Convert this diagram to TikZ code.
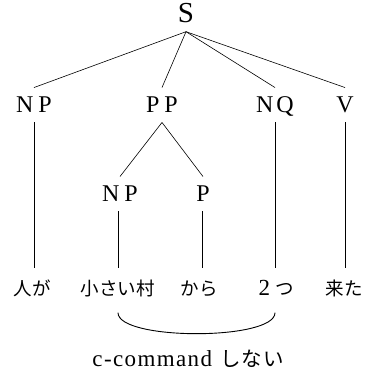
\documentclass[tikz,border=0pt]{standalone}
\usepackage{fontspec}
\setmainfont{Liberation Serif}
\newfontfamily\jp{Noto Sans CJK JP}
\newfontfamily\spaced[LetterSpace=6]{Liberation Serif}
\begin{document}
\begin{tikzpicture}[x=1pt,y=-1pt]
\tikzset{
  cat/.style={font=\fontsize{24}{24}\selectfont, inner xsep=0pt, inner ysep=9.5pt, text height=15.5pt, text depth=0pt},
  word/.style={font=\jp\fontsize{18.5}{18.5}\selectfont, inner xsep=0pt, inner ysep=12pt, text height=15pt, text depth=2pt},
  edge/.style={line width=0.6pt},
  arc/.style={line width=0.9pt}
}
\useasboundingbox (0,0) rectangle (373,371);
% categories
\node[cat, font=\fontsize{29}{29}\selectfont, text height=19pt, inner ysep=9pt] (S) at (186,13) {S};
\node[cat] (NP)  at (34,105)  {N\hspace{5pt}P};
\node[cat] (PP)  at (162,105) {P\hspace{5pt}P};
\node[cat] (NQ)  at (275,105) {N\hspace{3pt}Q};
\node[cat] (V)   at (345,105) {V};
\node[cat] (NP2) at (120,194) {N\hspace{5pt}P};
\node[cat] (P)   at (203,194) {P};
% words
\node[word] (w1) at (32,289)  {人が};
\node[word] (w2) at (118,289) {小さい村};
\node[word] (w3) at (199,289) {から};
\node[word] (w4) at (276,289) {{\rmfamily\fontsize{23}{23}\selectfont 2}\hspace{5pt}つ};
\node[word] (w5) at (344,289) {来た};
% edges
\draw[edge] (S.south) -- (NP.north);
\draw[edge] (S.south) -- (PP.north);
\draw[edge] (S.south) -- (NQ.north);
\draw[edge] (S.south) -- (V.north);
\draw[edge] (PP.south) -- (NP2.north);
\draw[edge] (PP.south) -- (P.north);
\draw[edge] (NP.south) -- (NP.south |- w1.north);
\draw[edge] ([xshift=-2pt]NP2.south) -- ([xshift=-2pt]NP2.south |- w2.north);
\draw[edge] ([xshift=-1pt]P.south) -- ([xshift=-1pt]P.south |- w3.north);
\draw[edge] (NQ.south) -- (NQ.south |- w4.north);
\draw[edge] (V.south) -- (V.south |- w5.north);
% arc
\coordinate (a1) at ([yshift=-3pt]w2.south);
\coordinate (a2) at ([xshift=-1pt,yshift=-3pt]w4.south);
\draw[arc] (a1) .. controls +(0,28) and +(0,28) .. (a2);
% label
\node[inner sep=0pt] (lab) at (188,359) {\fontsize{23}{23}\spaced c-command\hspace{8pt}{\jp\fontsize{20.5}{20.5}\selectfont し\hspace{1pt}な\hspace{1pt}い}};
\end{tikzpicture}
\end{document}
